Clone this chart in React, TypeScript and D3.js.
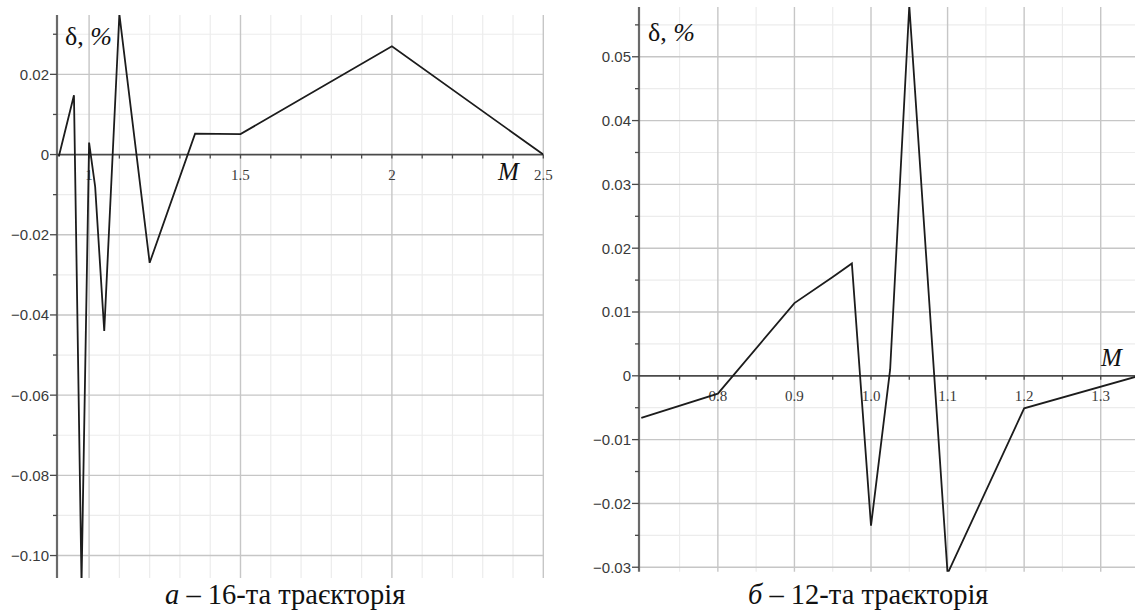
import React from "react";
import * as d3 from "d3";

// Trajectory 16: relative error δ (%) against Mach number M
const leftM = [0.9, 0.95, 0.975, 1.0, 1.02, 1.05, 1.1, 1.2, 1.35, 1.5, 2.0, 2.5];
const leftDelta = [-0.0005, 0.0148, -0.107, 0.003, -0.008, -0.044, 0.035, -0.027, 0.0052, 0.0051, 0.027, 0];
const leftXLabels = [1, 1.5, 2, 2.5];
const leftXLabelText = ["1", "1.5", "2", "2.5"];
const leftYLabels = [-0.1, -0.08, -0.06, -0.04, -0.02, 0, 0.02];

// Trajectory 12
const rightM = [0.7, 0.8, 0.9, 0.95, 0.975, 1.0, 1.025, 1.05, 1.1, 1.2, 1.35];
const rightDelta = [-0.0066, -0.0028, 0.0114, 0.0155, 0.0176, -0.0235, 0.001, 0.058, -0.031, -0.0051, 0];
const rightXLabels = [0.8, 0.9, 1.0, 1.1, 1.2, 1.3];
const rightXLabelText = ["0.8", "0.9", "1.0", "1.1", "1.2", "1.3"];
const rightYLabels = [-0.03, -0.02, -0.01, 0, 0.01, 0.02, 0.03, 0.04, 0.05];

const captionLeft = "16-та траєкторія";
const captionRight = "12-та траєкторія";

const fmtY = (v: number) => {
  if (Math.abs(v) < 1e-9) return "0";
  const s = Math.abs(v).toFixed(2);
  return v < 0 ? "\u2212" + s : s;
};

type PanelProps = {
  id: string;
  xs: number[];
  ys: number[];
  xDomain: [number, number];
  xRange: [number, number];
  yDomain: [number, number];
  yRange: [number, number];
  xMinorStep: number;
  xMajorStep: number;
  yMinorStep: number;
  yMajorStep: number;
  xLabels: number[];
  xLabelText: string[];
  yLabels: number[];
  labelPos: { delta: [number, number]; m: [number, number] };
};

const Panel = (p: PanelProps) => {
  const x = d3.scaleLinear().domain(p.xDomain).range(p.xRange);
  const y = d3.scaleLinear().domain(p.yDomain).range(p.yRange);
  const [x0, x1] = p.xRange;
  const [yb, yt] = p.yRange;
  const eps = 1e-6;

  const xGrid = d3
    .range(Math.ceil(p.xDomain[0] / p.xMinorStep - eps), Math.floor(p.xDomain[1] / p.xMinorStep + eps) + 1)
    .map((k) => +(k * p.xMinorStep).toFixed(4))
    .filter((v) => x(v) > x0 + 3);
  const yGrid = d3
    .range(Math.ceil(p.yDomain[0] / p.yMinorStep - eps), Math.floor(p.yDomain[1] / p.yMinorStep + eps) + 1)
    .map((k) => +(k * p.yMinorStep).toFixed(4));
  const isMajor = (v: number, step: number) => Math.abs(v / step - Math.round(v / step)) < 1e-4;

  const line = d3
    .line<number>()
    .x((_, i) => x(p.xs[i]))
    .y((d) => y(d));

  return (
    <g>
      <defs>
        <clipPath id={p.id}>
          <rect x={x0} y={yt} width={x1 - x0} height={yb - yt} />
        </clipPath>
      </defs>
      {/* minor grid */}
      {xGrid.filter((v) => !isMajor(v, p.xMajorStep)).map((v) => (
        <line key={"xm" + v} x1={x(v)} x2={x(v)} y1={yt} y2={yb} stroke="#ececec" strokeWidth={1.2} />
      ))}
      {yGrid.filter((v) => !isMajor(v, p.yMajorStep)).map((v) => (
        <line key={"ym" + v} x1={x0} x2={x1} y1={y(v)} y2={y(v)} stroke="#ececec" strokeWidth={1.2} />
      ))}
      {/* major grid */}
      {xGrid.filter((v) => isMajor(v, p.xMajorStep)).map((v) => (
        <line key={"xM" + v} x1={x(v)} x2={x(v)} y1={yt} y2={yb} stroke="#c6c6c6" strokeWidth={1.4} />
      ))}
      {yGrid.filter((v) => isMajor(v, p.yMajorStep) && Math.abs(v) > eps).map((v) => (
        <line key={"yM" + v} x1={x0} x2={x1} y1={y(v)} y2={y(v)} stroke="#c6c6c6" strokeWidth={1.4} />
      ))}
      {/* axes */}
      <line x1={x0} x2={x0} y1={yt} y2={yb} stroke="#6a6a6a" strokeWidth={2.2} />
      <line x1={x0} x2={x1} y1={y(0)} y2={y(0)} stroke="#4a4a4a" strokeWidth={1.8} />
      {/* ticks */}
      {yGrid.map((v) => (
        <line
          key={"yt" + v}
          x1={x0 - (isMajor(v, p.yMajorStep) ? 7 : 4)}
          x2={x0}
          y1={y(v)}
          y2={y(v)}
          stroke="#4a4a4a"
          strokeWidth={1.3}
        />
      ))}
      {xGrid.map((v) => (
        <line key={"xt" + v} x1={x(v)} x2={x(v)} y1={y(0)} y2={y(0) + 4} stroke="#4a4a4a" strokeWidth={1.3} />
      ))}
      {/* tick labels */}
      {p.yLabels.map((v) => (
        <text
          key={"yl" + v}
          x={x0 - 8}
          y={y(v)}
          dy="0.36em"
          textAnchor="end"
          fontFamily="Liberation Sans, Arial, sans-serif"
          fontSize={15}
          fill="#3a3a3a"
        >
          {fmtY(v)}
        </text>
      ))}
      {p.xLabels.map((v, i) => (
        <text
          key={"xl" + v}
          x={x(v)}
          y={y(0) + 25}
          textAnchor="middle"
          fontFamily="Liberation Serif, Times New Roman, serif"
          fontSize={15}
          fill="#3a3a3a"
        >
          {p.xLabelText[i]}
        </text>
      ))}
      {/* data */}
      <path
        d={line(p.ys) || ""}
        fill="none"
        stroke="#1c1c1c"
        strokeWidth={1.8}
        strokeLinejoin="miter"
        clipPath={`url(#${p.id})`}
      />
      {/* axis titles */}
      <text
        x={p.labelPos.delta[0]}
        y={p.labelPos.delta[1]}
        fontFamily="Liberation Serif, Times New Roman, serif"
        fontSize={26}
        fill="#111"
      >
        δ, <tspan fontStyle="italic">%</tspan>
      </text>
      <text
        x={p.labelPos.m[0]}
        y={p.labelPos.m[1]}
        fontFamily="Liberation Serif, Times New Roman, serif"
        fontStyle="italic"
        fontSize={25}
        fill="#111"
      >
        M
      </text>
    </g>
  );
};

export default function App() {
  return (
    <svg
      width={1135}
      height={612}
      style={{ position: "absolute", left: 0, top: 0, background: "#fff" }}
    >
      <rect width={1135} height={612} fill="#fff" />
      <Panel
        id="clip-a"
        xs={leftM}
        ys={leftDelta}
        xDomain={[0.894, 2.5]}
        xRange={[57, 543.3]}
        yDomain={[-0.1056, 0.0348]}
        yRange={[578, 15]}
        xMinorStep={0.1}
        xMajorStep={0.5}
        yMinorStep={0.01}
        yMajorStep={0.02}
        xLabels={leftXLabels}
        xLabelText={leftXLabelText}
        yLabels={leftYLabels}
        labelPos={{ delta: [65, 45], m: [498, 180] }}
      />
      <Panel
        id="clip-b"
        xs={rightM}
        ys={rightDelta}
        xDomain={[0.697, 1.35]}
        xRange={[639, 1139]}
        yDomain={[-0.0307, 0.0578]}
        yRange={[571.7, 7]}
        xMinorStep={0.05}
        xMajorStep={0.1}
        yMinorStep={0.005}
        yMajorStep={0.01}
        xLabels={rightXLabels}
        xLabelText={rightXLabelText}
        yLabels={rightYLabels}
        labelPos={{ delta: [648, 41], m: [1101, 366] }}
      />
      <text x={165} y={604} fontFamily="Liberation Serif, Times New Roman, serif" fontSize={28.5} fill="#111">
        <tspan fontStyle="italic">а</tspan> – {captionLeft}
      </text>
      <text x={748} y={604} fontFamily="Liberation Serif, Times New Roman, serif" fontSize={28.5} fill="#111">
        <tspan fontStyle="italic">б</tspan> – {captionRight}
      </text>
    </svg>
  );
}
